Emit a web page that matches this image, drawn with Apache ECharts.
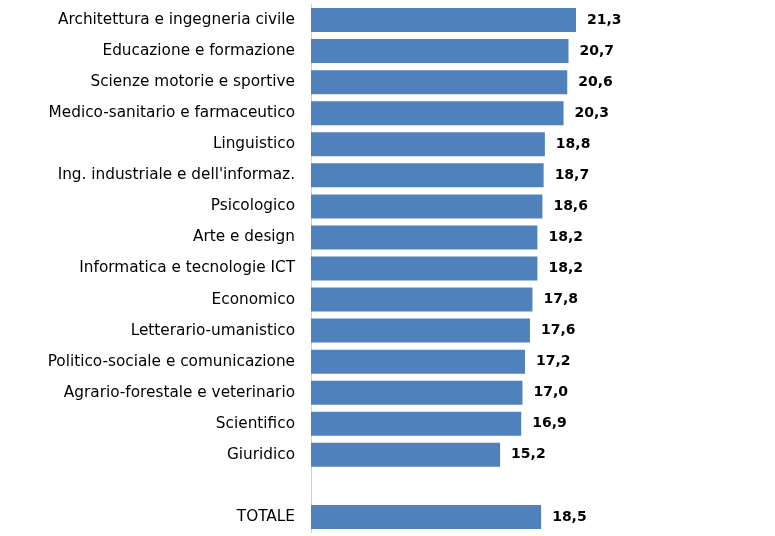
<!DOCTYPE html>
<html>
<head>
<meta charset="utf-8">
<script src="https://cdn.jsdelivr.net/npm/echarts@6/dist/echarts.min.js"></script>
<style>
    html, body { margin: 0; padding: 0; background: #fff; }
    #chart { width: 775px; height: 536px; }
</style>
</head>
<body>
<div id="chart"></div>
<script>
// Categories, top to bottom (empty string = spacer row before the total)
const categories = [
    'Architettura e ingegneria civile',
    'Educazione e formazione',
    'Scienze motorie e sportive',
    'Medico-sanitario e farmaceutico',
    'Linguistico',
    'Ing. industriale e dell\'informaz.',
    'Psicologico',
    'Arte e design',
    'Informatica e tecnologie ICT',
    'Economico',
    'Letterario-umanistico',
    'Politico-sociale e comunicazione',
    'Agrario-forestale e veterinario',
    'Scientifico',
    'Giuridico',
    '',
    'TOTALE'
];

const values = [21.3, 20.7, 20.6, 20.3, 18.8, 18.7, 18.6, 18.2, 18.2, 17.8, 17.6, 17.2, 17.0, 16.9, 15.2, null, 18.5];

const FONT = "'DejaVu Sans', sans-serif";

const chart = echarts.init(document.getElementById('chart'));

const option = {
    animation: false,
    grid: {
        left: 311,
        right: 153,
        top: 4.5,
        bottom: 3.5,
        containLabel: false
    },
    xAxis: {
        type: 'value',
        min: 0,
        max: 25,
        show: false
    },
    yAxis: {
        type: 'category',
        inverse: true,
        data: categories,
        axisLine: { show: true, lineStyle: { color: '#d0d0d0', width: 1 } },
        axisTick: { show: false },
        axisLabel: {
            margin: 16,
            color: '#000',
            fontFamily: FONT,
            fontSize: 15.3
        }
    },
    series: [
        {
            type: 'bar',
            data: values,
            barWidth: 24,
            itemStyle: { color: '#4F81BD' },
            label: {
                show: true,
                position: 'right',
                distance: 11,
                color: '#000',
                fontFamily: FONT,
                fontWeight: 'bold',
                fontSize: 14,
                formatter: p => p.value == null ? '' : p.value.toFixed(1).replace('.', ',')
            }
        }
    ]
};

chart.setOption(option);
</script>
</body>
</html>
